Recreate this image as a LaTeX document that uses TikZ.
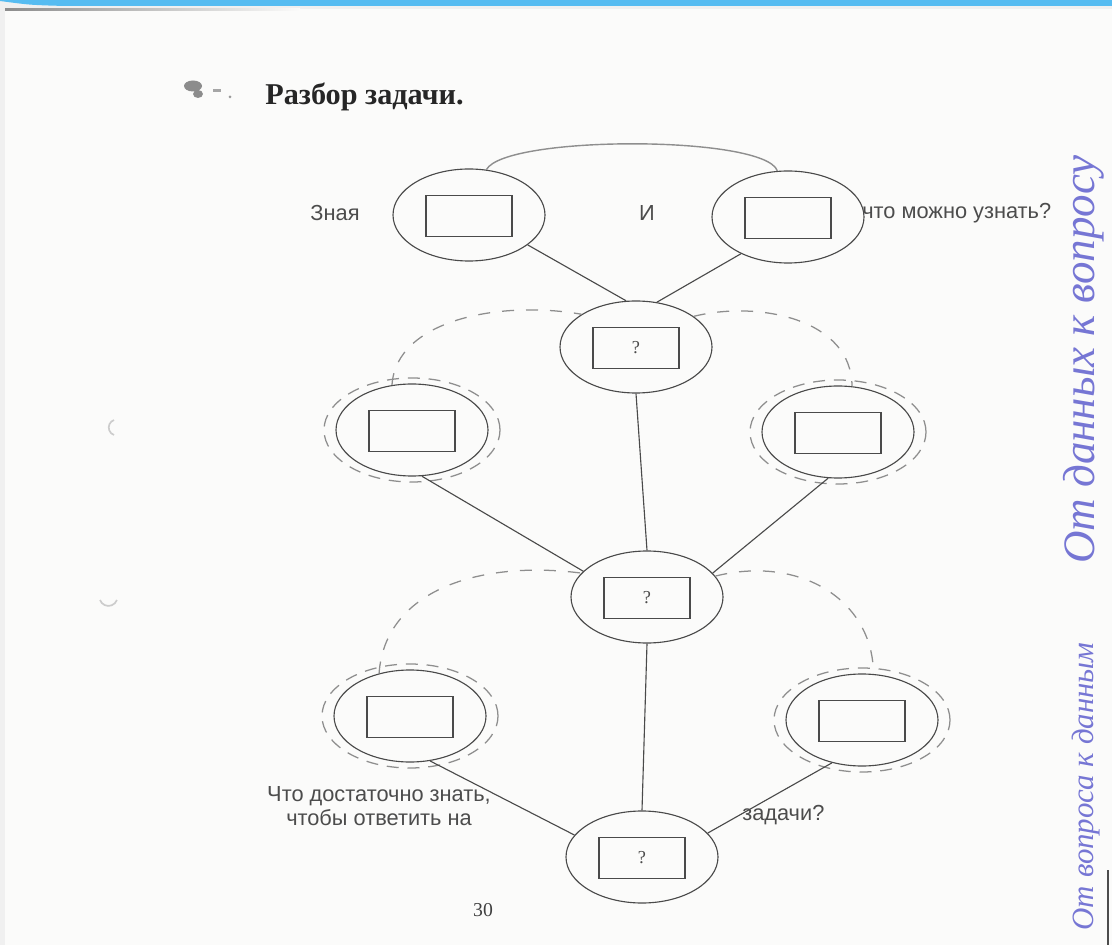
\documentclass[tikz,border=0pt]{standalone}
\usepackage{fontspec}
\setmainfont{Liberation Serif}
\setsansfont{Liberation Sans}
\usepackage{tikz}
\usetikzlibrary{shapes.geometric}
\definecolor{barblue}{HTML}{56BCF1}
\definecolor{inkgray}{HTML}{4A4A4A}
\definecolor{pengray}{HTML}{8E8E8E}
\definecolor{penblue}{HTML}{7676D4}
\definecolor{paper}{HTML}{FBFBFA}

\begin{document}
\begin{tikzpicture}[scale=0.25]
            \tikzstyle{every node}+=[inner sep=0pt]
            \tikzset{
              oval/.style={draw=inkgray, ellipse, line width=0.8pt, minimum width=3.8cm, minimum height=2.3cm},
              slot/.style={draw=inkgray, rectangle, line width=0.8pt, minimum width=2.15cm, minimum height=1.03cm, font=\fontsize{13}{15}\selectfont, text=inkgray},
              halo/.style={draw=pengray, ellipse, line width=0.9pt, dash pattern=on 0.3cm off 0.22cm, minimum width=4.4cm, minimum height=2.6cm},
              link/.style={draw=inkgray, line width=0.8pt},
              loopline/.style={draw=pengray, line width=0.9pt, dash pattern=on 0.3cm off 0.3cm},
              words/.style={font=\sffamily\fontsize{15.5}{17}\selectfont, text=black!70},
              handnote/.style={font=\itshape\fontsize{32}{34}\selectfont, text=penblue, rotate=90, anchor=east}
            }
            \useasboundingbox (0,0) rectangle (111.2,-94.5);
            \fill [black!6] (0,0) rectangle (111.2,-94.5);
            \fill [paper] (0.5,-0.9) rectangle (111.2,-94.5);
            \shade [left color=black!45, right color=paper] (0.5,-0.85) rectangle (30,-1.05);
            \fill [barblue] (0,0) -- (111.2,0) -- (111.2,-0.6) -- (6.5,-0.6) .. controls (3,-0.5) .. (0,-0.1) -- cycle;
            \fill [black!45] (19.3,-8.6) ellipse (0.9 and 0.55);
            \fill [black!45] (19.8,-9.4) ellipse (0.5 and 0.4);
            \fill [black!35] (21.3,-8.9) rectangle (22.1,-9.2);
            \fill [black!40] (23.0,-9.7) circle (0.15);
            \draw [black!20, line width=1.2pt] (11.4,-42.0) arc (110:250:0.8);
            \draw [black!20, line width=1.2pt] (10.0,-60.0) arc (200:340:0.9);
            \draw [black!70, line width=0.8pt] (110.8,-87.0) -- (110.8,-94.5);
            \node [font=\bfseries\fontsize{21.5}{24}\selectfont, text=black!85, anchor=west] (title) at (26.5,-9.7) {Разбор задачи.};
            \node [oval] (tl) at (46.9,-21.5) {};
            \node [slot] (tlbox) at ([yshift=-1mm]tl.center) {};
            \node [oval] (tr) at (78.8,-21.7) {};
            \node [slot] (trbox) at ([yshift=-1mm]tr.center) {};
            \node [oval] (tc) at (63.6,-34.7) {};
            \node [slot] (tcbox) at ([yshift=-1mm]tc.center) {?};
            \node [halo] (mlring) at (41.2,-43.0) {};
            \node [oval] (ml) at (41.2,-43.0) {};
            \node [slot] (mlbox) at ([yshift=-1mm]ml.center) {};
            \node [halo] (mrring) at (83.8,-43.2) {};
            \node [oval] (mr) at (83.8,-43.2) {};
            \node [slot] (mrbox) at ([yshift=-1mm]mr.center) {};
            \node [oval] (mc) at (64.7,-59.7) {};
            \node [slot] (mcbox) at ([yshift=-1mm]mc.center) {?};
            \node [halo] (llring) at (41.0,-71.6) {};
            \node [oval] (ll) at (41.0,-71.6) {};
            \node [slot] (llbox) at ([yshift=-1mm]ll.center) {};
            \node [halo] (lrring) at (86.2,-72.0) {};
            \node [oval] (lr) at (86.2,-72.0) {};
            \node [slot] (lrbox) at ([yshift=-1mm]lr.center) {};
            \node [oval] (bn) at (64.2,-85.7) {};
            \node [slot] (bnbox) at ([yshift=-1mm]bn.center) {?};
            \draw [pengray, line width=1pt] (tl.69) .. controls (50.5,-13.5) and (76.5,-13.5) .. (tr.103);
            \draw [link] (tl.333) -- (tc.102);
            \draw [link] (tr.218) -- (tc.65);
            \draw [link] (tc.south) -- (mc.north);
            \draw [link] (ml.282) -- (mc.158);
            \draw [link] (mr.258) -- (mc.20);
            \draw [link] (mc.south) -- (bn.north);
            \draw [link] (ll.294) -- (bn.162);
            \draw [link] (lr.235) -- (bn.20);
            \draw [loopline] (ml.114) .. controls (39.6,-32.0) and (50.0,-30.0) .. (tc.149);
            \draw [loopline] (tc.28) .. controls (76.0,-30.0) and (85.2,-32.0) .. (mr.73);
            \draw [loopline] (ll.126) .. controls (38.5,-59.0) and (48.0,-56.0) .. (mc.160);
            \draw [loopline] (mc.17) .. controls (80.0,-55.5) and (87.3,-60.0) .. (lr.76);
            \node [words] (know) at (33.5,-21.3) {Зная};
            \node [words] (and) at (64.7,-21.3) {И};
            \node [words, anchor=west] (learn) at (86.2,-21.3) {что можно узнать?};
            \node [words, align=center] (enough) at (37.9,-80.6) {Что достаточно знать,\\чтобы ответить на};
            \node [words, anchor=west] (task) at (74.2,-81.5) {задачи?};
            \node [font=\fontsize{14}{16}\selectfont, text=black!75] (page) at (48.3,-91.0) {30};
            \node [handnote] (upnote) at (108.4,-15.5) {От данных к вопросу};
            \node [handnote, font=\itshape\fontsize{22}{24}\selectfont] (downnote) at (108.6,-64.2) {От вопроса к данным};
        \end{tikzpicture}
\end{document}
